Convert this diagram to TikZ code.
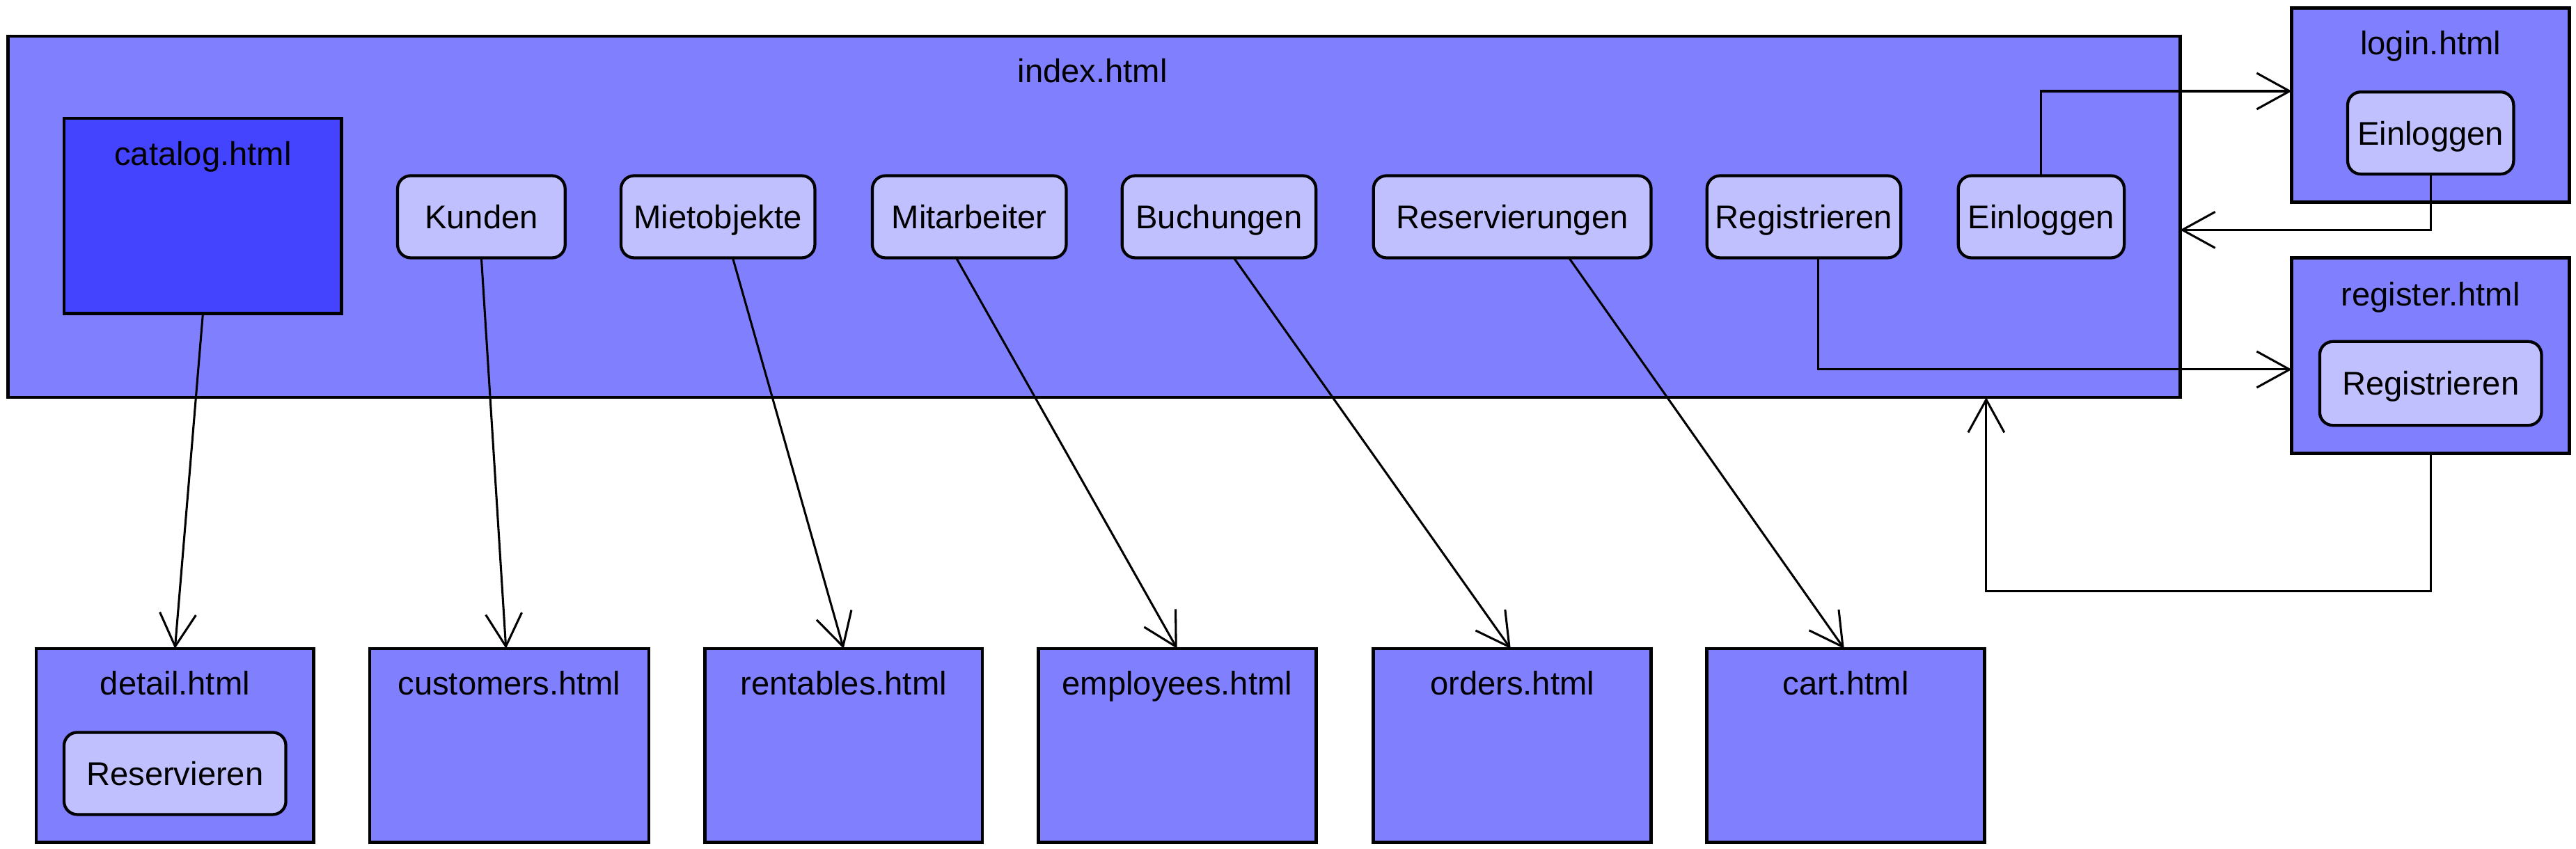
\documentclass[tikz,border=0pt]{standalone}
\usepackage{fontspec}
\setmainfont{Liberation Sans}
\usetikzlibrary{arrows.meta}
\definecolor{pagefill}{HTML}{8080FF}
\definecolor{catfill}{HTML}{4444FF}
\definecolor{btnfill}{HTML}{C0C0FF}
\tikzset{
  page/.style={draw=black, line width=2pt, fill=pagefill, anchor=north west, inner sep=0pt, outer sep=0pt},
  btn/.style={draw=black, line width=1.8pt, fill=btnfill, rounded corners=8pt, anchor=north west, inner sep=0pt, outer sep=0pt, minimum height=50pt, text height=14.3pt, text depth=0pt},
  title/.style={anchor=center, inner sep=0pt, text height=14.3pt, text depth=0pt},
  conn/.style={draw=black, line width=1.3pt, -{Straight Barb[length=20pt,width=22pt,line width=1.3pt]}},
}
\begin{document}
\begin{tikzpicture}[x=1pt,y=-1pt,font=\fontsize{20}{24}\selectfont]
\useasboundingbox (0,0) rectangle (1568,517);
% index page
\node[page, minimum width=1322pt, minimum height=220pt] (index) at (5,22) {};
\node[title] (indext) at (665,43) {index.html};
\node[page, fill=catfill, minimum width=169pt, minimum height=119pt] (catalog) at (39,72) {};
\node[title] (catalogt) at (123.5,93.5) {catalog.html};
\node[btn, minimum width=102pt] (kunden) at (242,107) {Kunden};
\node[btn, minimum width=118pt] (miet) at (378,107) {Mietobjekte};
\node[btn, minimum width=118pt] (mitarb) at (531,107) {Mitarbeiter};
\node[btn, minimum width=118pt] (buch) at (683,107) {Buchungen};
\node[btn, minimum width=169pt] (reserv) at (836,107) {Reservierungen};
\node[btn, minimum width=118pt] (regist) at (1039,107) {Registrieren};
\node[btn, minimum width=101pt] (einl) at (1192,107) {Einloggen};
% login page
\node[page, minimum width=169pt, minimum height=118pt] (login) at (1395,5) {};
\node[title] (logint) at (1479.5,26) {login.html};
\node[btn, minimum width=101pt] (loginbtn) at (1429,56) {Einloggen};
% register page
\node[page, minimum width=169pt, minimum height=119pt] (register) at (1395,157) {};
\node[title] (registert) at (1479.5,179) {register.html};
\node[btn, minimum width=135pt, minimum height=51pt] (registerbtn) at (1412,208) {Registrieren};
% bottom pages
\node[page, minimum width=169pt, minimum height=118pt] (detail) at (22,395) {};
\node[title] (detailt) at (106.5,416) {detail.html};
\node[btn, minimum width=135pt] (detailbtn) at (39,446) {Reservieren};
\node[page, minimum width=170pt, minimum height=118pt] (customers) at (225,395) {};
\node[title] (customerst) at (310,416) {customers.html};
\node[page, minimum width=169pt, minimum height=118pt] (rentables) at (429,395) {};
\node[title] (rentablest) at (513.5,416) {rentables.html};
\node[page, minimum width=169pt, minimum height=118pt] (employees) at (632,395) {};
\node[title] (employeest) at (716.5,416) {employees.html};
\node[page, minimum width=169pt, minimum height=118pt] (orders) at (836,395) {};
\node[title] (orderst) at (920.5,416) {orders.html};
\node[page, minimum width=169pt, minimum height=118pt] (cart) at (1039,395) {};
\node[title] (cartt) at (1123.5,416) {cart.html};
% connectors
\draw[conn] (catalog.south) -- (detail.north);
\draw[conn] (kunden.south) -- ([xshift=-2pt]customers.north);
\draw[conn] ([xshift=9pt]miet.south) -- (rentables.north);
\draw[conn] ([xshift=-8pt]mitarb.south) -- (employees.north);
\draw[conn] ([xshift=9pt]buch.south) -- ([xshift=-1pt]orders.north);
\draw[conn] ([xshift=34.5pt]reserv.south) -- ([xshift=-1pt]cart.north);
\draw[conn] (einl.north) |- ([yshift=8.5pt]login.west);
\draw[conn] (loginbtn.south) |- ([yshift=-8pt]index.east);
\draw[conn] ([xshift=8.5pt]regist.south) |- ([yshift=-8.5pt]register.west);
\coordinate (retc) at (1209,360);
\draw[conn] (register.south) |- (retc) -- (retc |- index.south);
\end{tikzpicture}
\end{document}
